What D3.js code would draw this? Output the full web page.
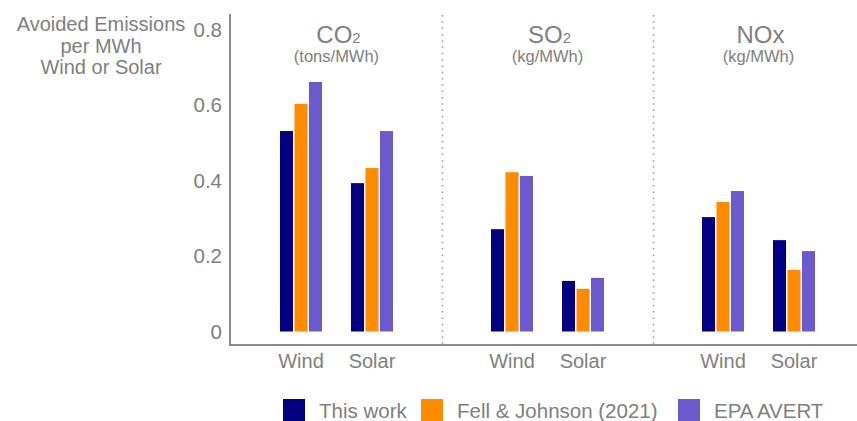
<!DOCTYPE html>
<html>
<head>
<meta charset="utf-8">
<script src="https://cdn.jsdelivr.net/npm/d3@7"></script>
<style>
  html, body { margin: 0; padding: 0; background: #fff; }
  svg { display: block; font-family: "Liberation Sans", Arial, sans-serif; }
</style>
</head>
<body>
<svg id="chart" width="857" height="421"></svg>
<script>
// ---- data ----
const pollutants = ["CO2", "SO2", "NOx"];
const pollutantMain = ["CO", "SO", "NOx"];
const pollutantSub = ["2", "2", ""];
const pollutantUnits = ["(tons/MWh)", "(kg/MWh)", "(kg/MWh)"];
const sources = ["Wind", "Solar"];
const seriesNames = ["This work", "Fell & Johnson (2021)", "EPA AVERT"];
const seriesColors = ["#000080", "#ff8c00", "#6a5acd"];
// values[pollutant][source] for each series
const thisWork    = [[0.531, 0.393], [0.271, 0.134], [0.303, 0.242]];
const fellJohnson = [[0.603, 0.433], [0.422, 0.113], [0.343, 0.163]];
const epaAvert    = [[0.661, 0.531], [0.412, 0.142], [0.372, 0.213]];
const yTicks = [0, 0.2, 0.4, 0.6, 0.8];
const yTickLabels = ["0", "0.2", "0.4", "0.6", "0.8"];
const yTitle = ["Avoided Emissions", "per MWh", "Wind or Solar"];

const allSeries = [thisWork, fellJohnson, epaAvert];

const svg = d3.select("#chart");
const textColor = "#808080";
const axisColor = "#8c8c8c";

const y = d3.scaleLinear().domain([0, 0.8]).range([331.5, 29.5]);
const xPanel = d3.scaleBand().domain(pollutants).range([231, 864]);
const xSeries = d3.scaleBand().domain(seriesNames).range([-21, 21]).paddingInner(0.1);

function xSource(pi) {
  const c = xPanel(pollutants[pi]) + xPanel.bandwidth() / 2;
  return d3.scalePoint().domain(sources).range([c - 35.5, c + 35.5]);
}

// ---- separators ----
svg.selectAll("line.sep")
  .data(pollutants.slice(1))
  .join("line")
  .attr("x1", d => xPanel(d) + 0.5).attr("x2", d => xPanel(d) + 0.5)
  .attr("y1", 15).attr("y2", 345)
  .attr("stroke", "#999").attr("stroke-width", 1.5)
  .attr("stroke-dasharray", "1.5,4.8");

// ---- bars ----
const barData = [];
pollutants.forEach((p, pi) => {
  const xs = xSource(pi);
  sources.forEach((s, si) => {
    seriesNames.forEach((n, ni) => {
      barData.push({ x: xs(s) + xSeries(n), v: allSeries[ni][pi][si], c: seriesColors[ni] });
    });
  });
});
svg.selectAll("rect.bar")
  .data(barData)
  .join("rect")
  .attr("class", "bar")
  .attr("x", d => d.x)
  .attr("width", xSeries.bandwidth())
  .attr("y", d => y(d.v))
  .attr("height", d => y(0) - y(d.v))
  .attr("fill", d => d.c);

// ---- y axis ----
const yAxis = d3.axisLeft(y).tickValues(yTicks).tickFormat((d, i) => yTickLabels[i]).tickSize(0).tickPadding(8);
const gy = svg.append("g").attr("transform", "translate(230,0)").call(yAxis);
gy.select(".domain").remove();
gy.selectAll("text").attr("fill", textColor).style("font-size", "20.5px")
  .style("font-family", '"Liberation Sans", Arial, sans-serif');

svg.append("line").attr("x1", 230).attr("x2", 230).attr("y1", 14).attr("y2", 346)
  .attr("stroke", axisColor).attr("stroke-width", 2);
svg.append("line").attr("x1", 229).attr("x2", 857).attr("y1", 345).attr("y2", 345)
  .attr("stroke", axisColor).attr("stroke-width", 2);

// ---- y title ----
svg.append("text")
  .attr("text-anchor", "middle")
  .attr("fill", textColor)
  .style("font-size", "20px")
  .selectAll("tspan").data(yTitle).join("tspan")
  .attr("x", 101).attr("y", (d, i) => 31 + i * 21.5)
  .text(d => d);

// ---- category labels ----
pollutants.forEach((p, pi) => {
  const xs = xSource(pi);
  svg.selectAll(null).data(sources).join("text")
    .attr("x", d => xs(d)).attr("y", 368)
    .attr("text-anchor", "middle").attr("fill", textColor)
    .style("font-size", "20px")
    .text(d => d);
});

// ---- panel titles ----
pollutants.forEach((p, pi) => {
  const cx = xPanel(p) + xPanel.bandwidth() / 2 + 2;
  const t = svg.append("text").attr("x", cx).attr("y", 43)
    .attr("text-anchor", "middle").attr("fill", textColor).style("font-size", "24px");
  t.append("tspan").text(pollutantMain[pi]);
  if (pollutantSub[pi]) {
    t.append("tspan").style("font-size", "15px").text(pollutantSub[pi]);
  }
  svg.append("text").attr("x", cx - 2).attr("y", 62)
    .attr("text-anchor", "middle").attr("fill", textColor).style("font-size", "16.5px")
    .text(pollutantUnits[pi]);
});

// ---- legend ----
const legendX = [283, 421, 678];
const lg = svg.selectAll("g.leg").data(seriesNames).join("g")
  .attr("transform", (d, i) => `translate(${legendX[i]},399)`);
lg.append("rect").attr("width", 22).attr("height", 22).attr("fill", (d, i) => seriesColors[i]);
lg.append("text").attr("x", 36).attr("y", 19).attr("fill", textColor)
  .style("font-size", "20.5px").text(d => d);
</script>
</body>
</html>
